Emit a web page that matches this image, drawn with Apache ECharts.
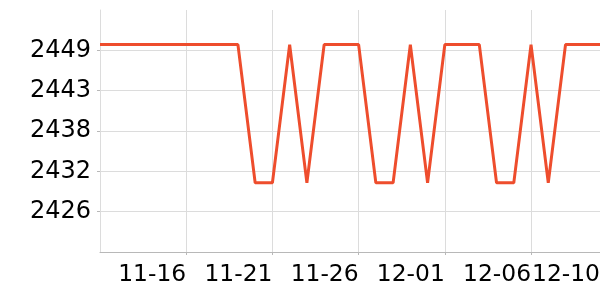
<!DOCTYPE html>
<html>
<head>
<meta charset="utf-8">
<script src="https://cdn.jsdelivr.net/npm/echarts@6/dist/echarts.min.js"></script>
<style>html,body{margin:0;padding:0;background:#fff}#c{width:600px;height:300px}</style>
</head>
<body>
<div id="c"></div>
<script>
const dates = [
  '2023-11-11','2023-11-12','2023-11-13','2023-11-14','2023-11-15','2023-11-16',
  '2023-11-17','2023-11-18','2023-11-19','2023-11-20','2023-11-21','2023-11-22',
  '2023-11-23','2023-11-24','2023-11-25','2023-11-26','2023-11-27','2023-11-28',
  '2023-11-29','2023-11-30','2023-12-01','2023-12-02','2023-12-03','2023-12-04',
  '2023-12-05','2023-12-06','2023-12-07','2023-12-08','2023-12-09','2023-12-10'
];
const values = [
  2450, 2450, 2450, 2450, 2450, 2450, 2450, 2450, 2450, 2430,
  2430, 2450, 2430, 2450, 2450, 2450, 2430, 2430, 2450, 2430,
  2450, 2450, 2450, 2430, 2430, 2450, 2430, 2450, 2450, 2450
];
const xTickDays = 5;
const yMin = 2420;
const yMax = 2455;
const yInterval = 35 / 6;

const DAY = 86400000;
const toTs = (s) => new Date(s + 'T00:00:00').getTime();
const xMin = toTs(dates[0]);
const xMax = toTs(dates[dates.length - 1]);

const chart = echarts.init(document.getElementById('c'));
const font = 'DejaVu Sans';
chart.setOption({
  animation: false,
  grid: { left: 100, right: 0, top: 10, bottom: 48, outerBoundsMode: 'none', containLabel: false },
  xAxis: {
    type: 'value',
    min: xMin, max: xMax, interval: xTickDays * DAY,
    axisLine: { show: true, lineStyle: { color: '#b8b8b8', width: 1 } },
    axisTick: { show: true, length: 3, lineStyle: { color: '#b8b8b8' } },
    splitLine: { show: true, lineStyle: { color: '#dcdcdc', width: 1 } },
    axisLabel: {
      color: '#000', fontFamily: font, fontSize: 23.4, align: 'right', margin: 11,
      showMinLabel: false, showMaxLabel: true, hideOverlap: false,
      formatter: function (v) { return echarts.time.format(v, '{MM}-{dd}', false); }
    }
  },
  yAxis: {
    type: 'value',
    min: yMin, max: yMax, interval: yInterval,
    axisLine: { show: true, lineStyle: { color: '#dcdcdc', width: 1 } },
    axisTick: { show: true, length: 3, lineStyle: { color: '#b8b8b8' } },
    splitLine: { show: true, showMaxLine: false, lineStyle: { color: '#dcdcdc', width: 1 } },
    axisLabel: {
      color: '#000', fontFamily: font, fontSize: 24, margin: 9,
      showMinLabel: false, showMaxLabel: false,
      formatter: function (v) { return String(Math.round(v)); }
    }
  },
  series: [{
    type: 'line',
    data: dates.map((d, i) => [toTs(d), values[i]]),
    showSymbol: false,
    symbol: 'none',
    lineStyle: { color: '#ee4d2d', width: 3 },
    itemStyle: { color: '#ee4d2d' }
  }]
});
</script>
</body>
</html>
